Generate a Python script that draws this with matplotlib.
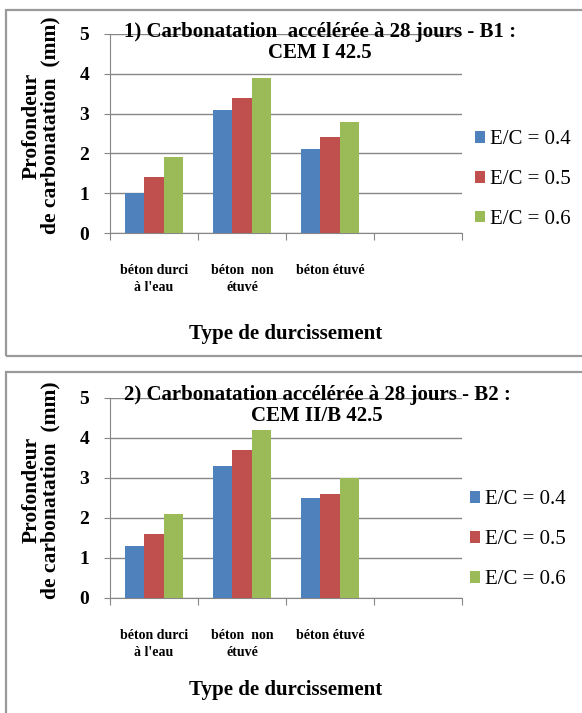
import matplotlib
matplotlib.use("Agg")
import matplotlib.pyplot as plt
from matplotlib.patches import Rectangle
import numpy as np

# data
categories = ["béton durci\nà l'eau", "béton  non\nétuvé", "béton étuvé", ""]
series_labels = ["E/C = 0.4", "E/C = 0.5", "E/C = 0.6"]
colors = ["#4F81BD", "#C0504D", "#9BBB59"]

b1_values = [[1.0, 3.1, 2.1],
             [1.4, 3.4, 2.4],
             [1.9, 3.9, 2.8]]
b2_values = [[1.3, 3.3, 2.5],
             [1.6, 3.7, 2.6],
             [2.1, 4.2, 3.0]]

titles = ["1) Carbonatation  accélérée à 28 jours - B1 :\nCEM I 42.5",
          "2) Carbonatation accélérée à 28 jours - B2 :\nCEM II/B 42.5"]

W, H = 582, 713
GRAY = "#868686"

plt.rcParams["font.family"] = ["Liberation Serif", "DejaVu Serif"]

fig = plt.figure(figsize=(W / 100, H / 100), dpi=100)


def px(x0, y0, x1, y1):
    """pixel box (top-left origin) to figure fraction rect"""
    return [x0 / W, 1 - y1 / H, (x1 - x0) / W, (y1 - y0) / H]


def draw_panel(ax, values, title, title_pos, legend_pos, xlabel_y):
    n_cat = len(categories)
    width = 1 / 4.5
    centers = np.arange(n_cat) + 0.5
    for i, vals in enumerate(values):
        xs = centers[:len(vals)] + (i - 1) * width
        ax.bar(xs, vals, width=width, color=colors[i], label=series_labels[i],
               zorder=3)

    ax.set_xlim(0, n_cat)
    ax.set_ylim(0, 5)
    ax.set_yticks(range(6))
    ax.yaxis.grid(True, color=GRAY, lw=1, zorder=0)
    ax.set_xticks(range(n_cat + 1))
    ax.set_xticklabels([])
    ax.set_xticks(centers, minor=True)
    ax.set_xticklabels(categories, minor=True, fontsize=10, fontweight="bold",
                       linespacing=1.45)
    ax.tick_params(axis="x", which="minor", length=0, pad=22)
    ax.tick_params(axis="x", which="major", length=5, color=GRAY)
    ax.tick_params(axis="y", length=4, color=GRAY, labelsize=14, pad=11)
    for lab in ax.get_yticklabels():
        lab.set_fontweight("bold")
    for side in ["top", "right"]:
        ax.spines[side].set_visible(False)
    for side in ["left", "bottom"]:
        ax.spines[side].set_color(GRAY)

    ax.set_ylabel("Profondeur\nde carbonatation  (mm)", fontsize=15.5,
                  fontweight="bold", linespacing=0.88)
    ax.yaxis.set_label_coords(-0.142, 0.54)
    ax.set_xlabel("Type de durcissement", fontsize=15, fontweight="bold")
    ax.xaxis.set_label_coords(0.5, xlabel_y)

    # va="baseline" on two lines pins the last line's baseline
    ax.text(title_pos[0], title_pos[1], title, transform=ax.transAxes,
            ha="center", va="baseline", fontsize=15, fontweight="bold",
            linespacing=1.05, zorder=5)

    ax.legend(loc="center left", bbox_to_anchor=legend_pos, frameon=False,
              fontsize=15, handlelength=0.48, handleheight=0.48,
              handletextpad=0.22, labelspacing=1.0, borderaxespad=0,
              borderpad=0)


ax1 = fig.add_axes(px(110, 34, 462, 233))
draw_panel(ax1, b1_values, titles[0], (0.597, 0.879), (1.037, 0.268), -0.455)
ax2 = fig.add_axes(px(110, 398, 462, 598))
draw_panel(ax2, b2_values, titles[1], (0.588, 0.885), (1.023, 0.291), -0.41)

# chart area borders
fig.patches.append(Rectangle((6 / W, 1 - 356 / H), 590 / W, 346 / H,
                             transform=fig.transFigure, fill=False,
                             edgecolor="#9A9A9A", lw=1.6))
fig.patches.append(Rectangle((6 / W, -0.05), 590 / W, 1 - 372 / H + 0.05,
                             transform=fig.transFigure, fill=False,
                             edgecolor="#9A9A9A", lw=1.6))

fig.savefig("out.png", dpi=100)
